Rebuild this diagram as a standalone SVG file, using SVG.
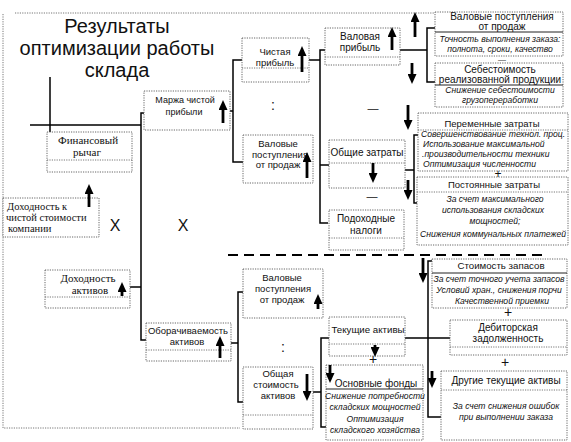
<svg xmlns="http://www.w3.org/2000/svg" width="571" height="442" viewBox="0 0 571 442">
<style>
.bx{fill:#fff;stroke:#666;stroke-width:1;stroke-dasharray:1.2 1.2}
.dv{stroke:#777;stroke-width:1;stroke-dasharray:1.2 1.2;fill:none}
.sd{stroke:#222;stroke-width:1;fill:none}
.cn{stroke:#000;stroke-width:1.5;fill:none}
.ar{stroke:#000;stroke-width:2.8;fill:none;marker-end:url(#ah)}
.s{font-family:"Liberation Sans",Arial,sans-serif;fill:#111;text-anchor:middle}
.r{font-family:"Liberation Serif","Times New Roman",serif;fill:#111;text-anchor:middle}
.i{font-family:"Liberation Sans",Arial,sans-serif;font-style:italic;fill:#111;text-anchor:middle;font-size:8.6px}
.t{font-family:"Liberation Sans",Arial,sans-serif;fill:#111;text-anchor:middle;font-size:20px}
.l{text-anchor:start}
</style>
<defs>
<marker id="ah" markerUnits="userSpaceOnUse" viewBox="0 0 10 9" refX="2" refY="4.5" markerWidth="10" markerHeight="9" orient="auto">
<path d="M0,0 L10,4.5 L0,9 z" fill="#000"/>
</marker>
</defs>
<rect width="571" height="442" fill="#fff"/>
<g id="frame">
<path class="dv" d="M15,13 H435 M3,14 V428 H240"/>
</g>
<g id="title">
<text class="t" x="117" y="33">Результаты</text>
<text class="t" x="117" y="55">оптимизации работы</text>
<text class="t" x="117" y="77">склада</text>
</g>
<g id="connectors">
<path class="cn" d="M50,77 V133 M30,125 H141"/>
<path class="cn" d="M145,113 H141 V340 H146 M130,287 H141"/>
<path class="cn" d="M230,111 H233 M242,60 H233 V162 H243"/>
<path class="cn" d="M309,60 H320 M325,50 H320 V223 H328 M320,165 H329"/>
<path class="cn" d="M400,50 H427 M435,28 H427 V82 H435"/>
<path class="cn" d="M405,170 H414 M418,135 H414 V203 H417"/>
<path class="cn" d="M231,343 H238 M243,292 H238 V402 H243"/>
<path class="cn" d="M313,392 H321 M330,338 H321 V427 H326"/>
<path class="cn" d="M405,338 H450 M432,261 H428 V417 H441"/>
<path d="M228,255 H545" stroke="#000" stroke-width="2" stroke-dasharray="10 6" fill="none"/>
</g>
<g id="marja">
<rect class="bx" x="144" y="91" width="86" height="39"/>
<text class="s" font-size="9" x="185" y="103">Маржа чистой</text>
<text class="s" font-size="9" x="184" y="115">прибыли</text>
</g>
<g id="chistaya">
<rect class="bx" x="242" y="38" width="67" height="44"/>
<line class="dv" x1="242" y1="68" x2="309" y2="68"/>
<text class="s" font-size="9.5" x="275" y="55">Чистая</text>
<text class="s" font-size="9.5" x="275" y="66">прибыль</text>
</g>
<g id="valovaya">
<rect class="bx" x="325" y="28" width="75" height="37"/>
<line class="dv" x1="325" y1="57" x2="400" y2="57"/>
<text class="s" font-size="10" x="360" y="40">Валовая</text>
<text class="s" font-size="10" x="360" y="51">прибыль</text>
</g>
<g id="valpost-top">
<rect class="bx" x="435" y="12" width="128" height="44"/>
<line class="sd" x1="435" y1="32" x2="563" y2="32"/>
<text class="s" font-size="10" x="502" y="20">Валовые поступления</text>
<text class="s" font-size="10" x="502" y="30">от продаж</text>
<text class="i" x="500" y="42">Точность выполнения заказа:</text>
<text class="i" x="500" y="52">полнота, сроки, качество</text>
</g>
<g id="sebest">
<rect class="bx" x="435" y="63" width="128" height="44"/>
<line class="sd" x1="435" y1="85" x2="563" y2="85"/>
<text class="s" font-size="10" x="500" y="73">Себестоимость</text>
<text class="s" font-size="10" x="500" y="83">реализованной продукции</text>
<text class="i" x="500" y="93">Снижение себестоимости</text>
<text class="i" x="500" y="103">грузопереработки</text>
</g>
<g id="valpost-mid">
<rect class="bx" x="243" y="135" width="70" height="48"/>
<text class="s" font-size="9.5" x="278" y="147">Валовые</text>
<text class="s" font-size="9.5" x="280" y="158">поступления</text>
<text class="s" font-size="9.5" x="278" y="168">от продаж</text>
</g>
<g id="obshie">
<rect class="bx" x="329" y="140" width="76" height="48"/>
<line class="dv" x1="329" y1="163" x2="405" y2="163"/>
<text class="s" font-size="10" x="367" y="156">Общие затраты</text>
</g>
<g id="podohod">
<rect class="bx" x="329" y="210" width="75" height="40"/>
<line class="dv" x1="329" y1="238" x2="404" y2="238"/>
<text class="s" font-size="10" x="366" y="222">Подоходные</text>
<text class="s" font-size="10" x="366" y="234">налоги</text>
</g>
<g id="peremen">
<rect class="bx" x="418" y="113" width="150" height="58"/>
<line class="dv" x1="418" y1="130" x2="568" y2="130"/>
<text class="s" font-size="9.5" x="492" y="127">Переменные затраты</text>
<text class="i l" x="421" y="137">Совершенствование технол. проц.</text>
<text class="i l" x="423" y="147">Использование максимальной</text>
<text class="i l" x="422" y="157">.производительности техники</text>
<text class="i l" x="423" y="167">Оптимизация численности</text>
</g>
<g id="postoyan">
<rect class="bx" x="417" y="177" width="151" height="68"/>
<line class="dv" x1="417" y1="192" x2="568" y2="192"/>
<text class="s" font-size="9.5" x="494" y="188">Постоянные затраты</text>
<text class="i" x="495" y="202">За счет максимального</text>
<text class="i" x="493" y="213">использования складских</text>
<text class="i" x="495" y="224">мощностей;</text>
<text class="i" x="493" y="237">Снижения коммунальных платежей</text>
</g>
<g id="finrychag">
<rect class="bx" x="47" y="132" width="85" height="40"/>
<line class="dv" x1="47" y1="160" x2="132" y2="160"/>
<text class="r" font-size="11" x="88" y="144">Финансовый</text>
<text class="r" font-size="11" x="87" y="156">рычаг</text>
</g>
<g id="dohod-company">
<rect class="bx" x="3" y="198" width="96" height="39"/>
<text class="r l" font-size="10.5" x="7" y="210">Доходность к</text>
<text class="r l" font-size="10.5" x="6" y="221">чистой стоимости</text>
<text class="r l" font-size="10.5" x="8" y="232">компании</text>
</g>
<g id="signs">
<text class="s" font-size="16" x="115" y="231">X</text>
<text class="s" font-size="16" x="183" y="231">X</text>
<text class="s" font-size="14" x="273" y="110">:</text>
<text class="s" font-size="14" x="283" y="352">:</text>
<text class="s" font-size="8" x="502" y="62">—</text>
<text class="s" font-size="11" x="373" y="112">—</text>
<text class="s" font-size="11" x="372" y="200">—</text>
<text class="s" font-size="12" x="498" y="178">+</text>
<text class="s" font-size="14" x="508" y="317">+</text>
<text class="s" font-size="14" x="505" y="367">+</text>
<text class="s" font-size="14" x="373" y="364">+</text>
</g>
<g id="dohod-aktiv">
<rect class="bx" x="45" y="270" width="85" height="38"/>
<line class="dv" x1="45" y1="297" x2="130" y2="297"/>
<text class="r" font-size="11" x="88" y="282">Доходность</text>
<text class="r" font-size="11" x="90" y="294">активов</text>
</g>
<g id="oborach">
<rect class="bx" x="146" y="323" width="85" height="38"/>
<line class="dv" x1="146" y1="350" x2="231" y2="350"/>
<text class="s" font-size="9.5" x="188" y="334">Оборачиваемость</text>
<text class="s" font-size="9.5" x="187" y="345">активов</text>
</g>
<g id="valpost-low">
<rect class="bx" x="243" y="269" width="80" height="49"/>
<text class="s" font-size="9.5" x="282" y="281">Валовые</text>
<text class="s" font-size="9.5" x="283" y="292">поступления</text>
<text class="s" font-size="9.5" x="282" y="303">от продаж</text>
</g>
<g id="obshaya">
<rect class="bx" x="243" y="367" width="70" height="62"/>
<line class="dv" x1="243" y1="415" x2="313" y2="415"/>
<text class="s" font-size="9.5" x="278" y="377">Общая</text>
<text class="s" font-size="9.5" x="276" y="388">стоимость</text>
<text class="s" font-size="9.5" x="278" y="399">активов</text>
</g>
<g id="tekush">
<rect class="bx" x="329" y="317" width="76" height="39"/>
<line class="dv" x1="329" y1="344" x2="405" y2="344"/>
<text class="s" font-size="9.7" x="368" y="333">Текущие активы</text>
</g>
<g id="osnovnye">
<rect class="bx" x="326" y="365" width="97" height="75"/>
<line class="sd" x1="326" y1="389" x2="423" y2="389"/>
<text class="s" font-size="10" x="376" y="387">Основные фонды</text>
<text class="i" x="375" y="399">Снижение потребности</text>
<text class="i" x="375" y="410">складских мощностей</text>
<text class="i" x="375" y="422">Оптимизация</text>
<text class="i" x="375" y="433">складского хозяйства</text>
</g>
<g id="zapasy">
<rect class="bx" x="432" y="259" width="135" height="49"/>
<line class="sd" x1="432" y1="273" x2="567" y2="273"/>
<text class="s" font-size="9.7" x="501" y="269">Стоимость запасов</text>
<text class="i" x="499" y="282">За счет точного учета запасов</text>
<text class="i" x="499" y="293">Условий хран., снижения порчи</text>
<text class="i" x="502" y="304">Качественной приемки</text>
</g>
<g id="debitor">
<rect class="bx" x="450" y="320" width="117" height="35"/>
<line class="dv" x1="450" y1="347" x2="567" y2="347"/>
<text class="s" font-size="10" x="508" y="331">Дебиторская</text>
<text class="s" font-size="10" x="508" y="342">задолженность</text>
</g>
<g id="drugie">
<rect class="bx" x="441" y="371" width="126" height="69"/>
<line class="dv" x1="441" y1="390" x2="567" y2="390"/>
<text class="s" font-size="10" x="506" y="384">Другие текущие активы</text>
<text class="i" x="506" y="409">За счет снижения ошибок</text>
<text class="i" x="506" y="420">при выполнении заказа</text>
</g>
<g id="arrows">
<line class="ar" x1="223" y1="123" x2="223" y2="108"/>
<line class="ar" x1="302" y1="72" x2="302" y2="54"/>
<line class="ar" x1="392" y1="50" x2="392" y2="35"/>
<line class="ar" x1="415" y1="37" x2="415" y2="20"/>
<line class="ar" x1="307" y1="178" x2="307" y2="160"/>
<line class="ar" x1="89" y1="207" x2="89" y2="192"/>
<line class="ar" x1="122" y1="296" x2="122" y2="290"/>
<line class="ar" x1="220" y1="358" x2="220" y2="344"/>
<line class="ar" x1="318" y1="309" x2="318" y2="302"/>
<line class="ar" x1="412" y1="63" x2="412" y2="76"/>
<line class="ar" x1="408" y1="105" x2="408" y2="122"/>
<line class="ar" x1="408" y1="180" x2="408" y2="192"/>
<line class="ar" x1="373" y1="163" x2="373" y2="175"/>
<line class="ar" x1="423" y1="258" x2="423" y2="275"/>
<line class="ar" x1="375" y1="345" x2="375" y2="349"/>
<line class="ar" x1="307" y1="374" x2="307" y2="393"/>
<line class="ar" x1="330" y1="365" x2="330" y2="375"/>
<line class="ar" x1="432" y1="371" x2="432" y2="380"/>
</g>
</svg>
